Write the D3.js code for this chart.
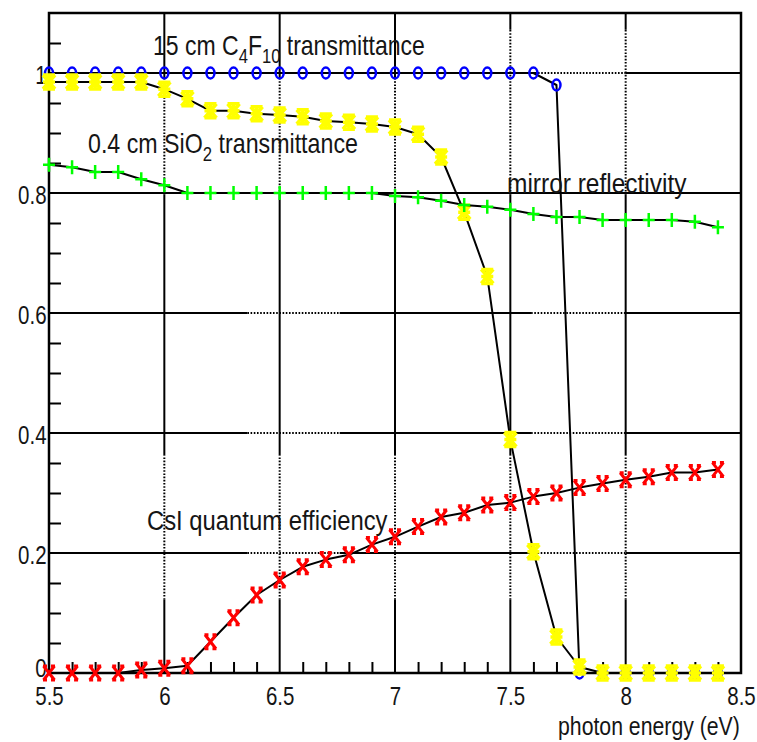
<!DOCTYPE html>
<html>
<head>
<meta charset="utf-8">
<script src="https://cdn.jsdelivr.net/npm/d3@7"></script>
<style>
  html, body { margin: 0; padding: 0; background: #fff; }
  svg { display: block; }
  text { font-family: "Liberation Sans", Arial, Helvetica, sans-serif; fill: #151515; }
</style>
</head>
<body>
<svg id="chart" width="757" height="742"></svg>
<script>
// Photon energy sampling (eV)
const energy = [5.5, 5.6, 5.7, 5.8, 5.9, 6.0, 6.1, 6.2, 6.3, 6.4,
                6.5, 6.6, 6.7, 6.8, 6.9, 7.0, 7.1, 7.2, 7.3, 7.4,
                7.5, 7.6, 7.7, 7.8, 7.9, 8.0, 8.1, 8.2, 8.3, 8.4];

// 15 cm C4F10 transmittance
const c4f10 = [1, 1, 1, 1, 1, 1, 1, 1, 1, 1,
               1, 1, 1, 1, 1, 1, 1, 1, 1, 1,
               1, 1, 0.98, 0, 0, 0, 0, 0, 0, 0];

// 0.4 cm SiO2 transmittance
const sio2 = [0.985, 0.985, 0.985, 0.985, 0.985, 0.973, 0.957, 0.937, 0.937, 0.932,
              0.93, 0.927, 0.92, 0.918, 0.915, 0.91, 0.898, 0.86, 0.768, 0.661,
              0.389, 0.202, 0.06, 0.01, 0, 0, 0, 0, 0, 0];

// mirror reflectivity
const mirror = [0.847, 0.843, 0.835, 0.835, 0.823, 0.813, 0.8, 0.8, 0.8, 0.8,
                0.8, 0.8, 0.8, 0.8, 0.8, 0.795, 0.793, 0.787, 0.78, 0.777,
                0.772, 0.765, 0.76, 0.76, 0.755, 0.755, 0.755, 0.755, 0.752, 0.743];

// CsI quantum efficiency
const csi = [0, 0, 0, 0, 0.005, 0.008, 0.012, 0.052, 0.092, 0.13,
             0.155, 0.177, 0.189, 0.197, 0.214, 0.227, 0.244, 0.26, 0.267, 0.28,
             0.284, 0.294, 0.3, 0.309, 0.316, 0.322, 0.327, 0.334, 0.334, 0.339];

// Axis ticks
const xTicks = [5.5, 6, 6.5, 7, 7.5, 8, 8.5];
const xTickLabels = ["5.5", "6", "6.5", "7", "7.5", "8", "8.5"];
const xMinorTicks = [5.6, 5.7, 5.8, 5.9, 6.1, 6.2, 6.3, 6.4, 6.6, 6.7, 6.8, 6.9,
                     7.1, 7.2, 7.3, 7.4, 7.6, 7.7, 7.8, 7.9, 8.1, 8.2, 8.3, 8.4];
const yTicks = [0, 0.2, 0.4, 0.6, 0.8, 1.0];
const yTickLabels = ["0", "0.2", "0.4", "0.6", "0.8", "1"];
const yMinorTicks = [0.05, 0.1, 0.15, 0.25, 0.3, 0.35, 0.45, 0.5, 0.55, 0.65, 0.7, 0.75,
                     0.85, 0.9, 0.95, 1.05];

const xTitle = "photon energy (eV)";

const svg = d3.select("#chart");
const pLeft = 49, pRight = 741, pTop = 13, pBottom = 673;

const x = d3.scaleLinear().domain([5.5, 8.5]).range([pLeft, pRight]);
const y = d3.scaleLinear().domain([0, 1.1]).range([pBottom, pTop]);

// ---- grid: mostly solid, with a few dotted stretches ----
const gridG = svg.append("g");
function seg(x1, y1, x2, y2, dotted) {
  gridG.append("line")
    .attr("x1", x1).attr("y1", y1).attr("x2", x2).attr("y2", y2)
    .attr("stroke", "#000")
    .attr("stroke-width", 2)
    .attr("stroke-dasharray", dotted ? "1.6,1.6" : null);
}
const hPattern = [[5.5, 6.36, false], [6.36, 6.76, true], [6.76, 7.59, false], [7.59, 8.0, true], [8.0, 8.5, false]];
[0.2, 0.4, 0.6].forEach(v => hPattern.forEach(([a, b, d]) => seg(x(a), y(v), x(b), y(v), d)));
seg(x(5.5), y(0.8), x(8.5), y(0.8), false);
[[5.5, 7.62, false], [7.62, 8.0, true], [8.0, 8.5, false]]
  .forEach(([a, b, d]) => seg(x(a), y(1), x(b), y(1), d));
xTicks.slice(1, -1).forEach(v => {
  const upper = v >= 7.5 ? 1.072 : 0.99;
  [[0, 0.122, false], [0.122, 0.363, true], [0.363, 0.797, false], [0.797, upper, true], [upper, 1.1, false]]
    .forEach(([a, b, d]) => seg(x(v), y(a), x(v), y(b), d));
});

// ---- minor ticks ----
svg.append("g")
  .attr("transform", `translate(0,${pBottom})`)
  .call(d3.axisBottom(x).tickValues(xMinorTicks).tickSize(-11).tickFormat(""))
  .call(g => g.select(".domain").remove())
  .call(g => g.selectAll("line").attr("stroke", "#000").attr("stroke-width", 2));
svg.append("g")
  .attr("transform", `translate(${pLeft},0)`)
  .call(d3.axisLeft(y).tickValues(yMinorTicks).tickSize(-12).tickFormat(""))
  .call(g => g.select(".domain").remove())
  .call(g => g.selectAll("line").attr("stroke", "#000").attr("stroke-width", 2));

// ---- frame ----
svg.append("rect")
  .attr("x", pLeft).attr("y", pTop)
  .attr("width", pRight - pLeft).attr("height", pBottom - pTop)
  .attr("fill", "none").attr("stroke", "#000").attr("stroke-width", 2.5);

// ---- tick labels ----
const sx = 0.82;
svg.append("g")
  .attr("transform", `translate(0,${pBottom})`)
  .call(d3.axisBottom(x).tickValues(xTicks).tickSize(0).tickPadding(14)
        .tickFormat((d, i) => xTickLabels[i]))
  .call(g => g.select(".domain").remove())
  .call(g => g.selectAll("text").attr("font-size", 25).attr("fill", "#151515")
        .attr("font-family", "Liberation Sans, Arial, sans-serif")
        .attr("transform", `scale(${sx},1)`));
svg.append("g")
  .attr("transform", `translate(${pLeft},0)`)
  .call(d3.axisLeft(y).tickValues(yTicks).tickSize(0).tickPadding(3)
        .tickFormat((d, i) => yTickLabels[i]))
  .call(g => g.select(".domain").remove())
  .call(g => g.selectAll("text").attr("font-size", 25).attr("fill", "#151515")
        .attr("font-family", "Liberation Sans, Arial, sans-serif")
        .attr("dy", (d) => d === 0 ? "0.12em" : "0.4em")
        .attr("transform", `scale(${sx},1)`));

// ---- series ----
const line = d3.line().x(d => x(d[0])).y(d => y(d[1]));
function drawSeries(values, marker) {
  const pts = energy.map((e, i) => [e, values[i]]);
  svg.append("path").datum(pts)
    .attr("d", line).attr("fill", "none")
    .attr("stroke", "#000").attr("stroke-width", 2).attr("stroke-linejoin", "round");
  const g = svg.append("g");
  pts.forEach(p => marker(g.append("g").attr("transform", `translate(${x(p[0])},${y(p[1])})`)));
}

const circleMarker = g => g.append("ellipse").attr("rx", 4).attr("ry", 5.5)
  .attr("fill", "none").attr("stroke", "#0000ff").attr("stroke-width", 2.5);
const starMarker = g => g.append("path")
  .attr("d", "M-6,-7L6,7M6,-7L-6,7M0,-7V7M-6,-7H6M-6,7H6M-6,0H6")
  .attr("stroke", "#ffff00").attr("stroke-width", 3.5).attr("fill", "none");
const plusMarker = g => g.append("path")
  .attr("d", "M-6,0H6M0,-7V7")
  .attr("stroke", "#00ff00").attr("stroke-width", 2.5).attr("fill", "none");
const crossMarker = g => g.append("path")
  .attr("d", "M-5.5,-7L5.5,7M5.5,-7L-5.5,7M-6,-7H-2M2,-7H6M-6,7H-2M2,7H6")
  .attr("stroke", "#ff0000").attr("stroke-width", 3).attr("fill", "none");

drawSeries(c4f10, circleMarker);
drawSeries(sio2, starMarker);
drawSeries(mirror, plusMarker);
drawSeries(csi, crossMarker);

// ---- in-plot labels, fitted to a width ----
function label(parts, x0, baseline, width, size) {
  const g = svg.append("g");
  const t = g.append("text").attr("x", 0).attr("y", 0).attr("font-size", size);
  parts.forEach(p => {
    t.append("tspan")
      .attr("font-size", p.sub ? size * 0.72 : size)
      .attr("dy", p.dy || 0)
      .text(p.t);
  });
  const w = t.node().getBBox().width;
  g.attr("transform", `translate(${x0},${baseline}) scale(${width / w},1)`);
}

label([{ t: "15 cm C" }, { t: "4", sub: true, dy: 8 }, { t: "F", dy: -8 },
       { t: "10", sub: true, dy: 8 }, { t: " transmittance", dy: -8 }], 153, 55, 272, 27);
label([{ t: "0.4 cm SiO" }, { t: "2", sub: true, dy: 8 }, { t: " transmittance", dy: -8 }], 88, 153, 270, 27);
label([{ t: "mirror reflectivity" }], 507, 193, 180, 27);
label([{ t: "CsI quantum efficiency" }], 147, 530, 241, 27);

// axis title
label([{ t: xTitle }], 558, 735, 182, 25);
</script>
</body>
</html>
